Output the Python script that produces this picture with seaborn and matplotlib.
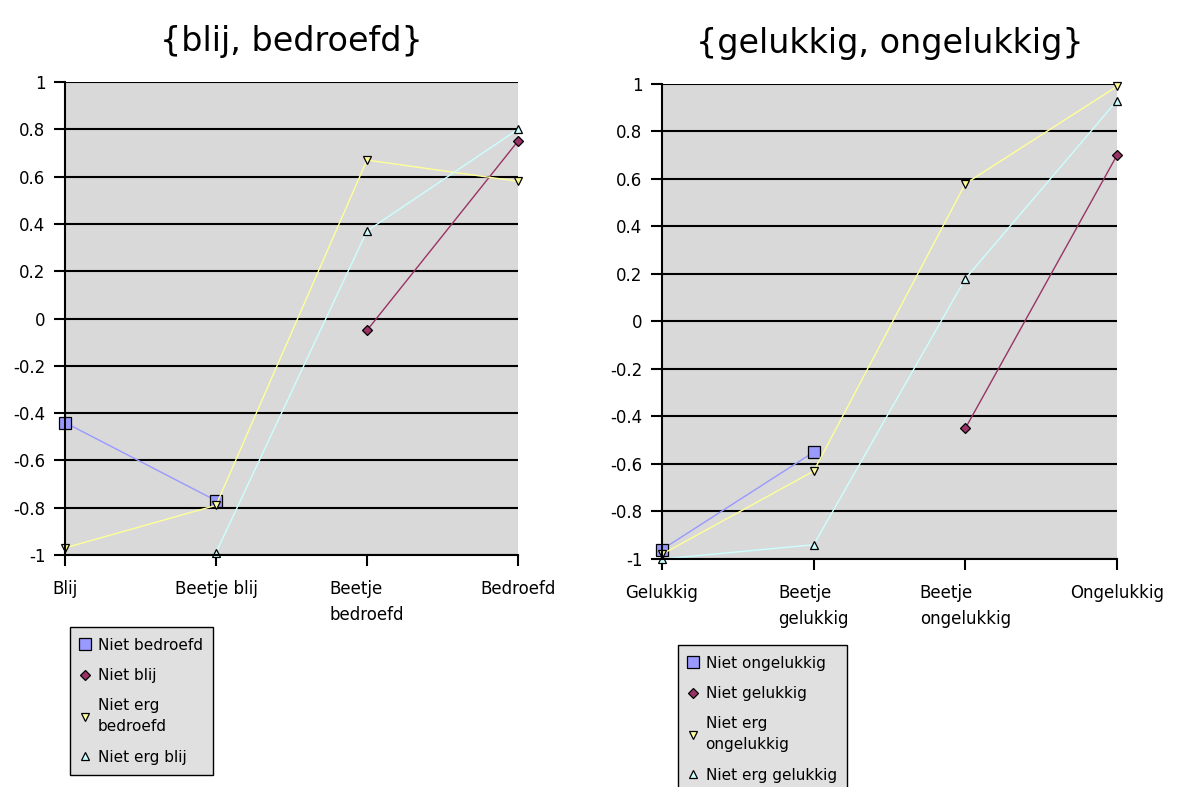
import numpy as np
import pandas as pd
import matplotlib
matplotlib.use("Agg")
import matplotlib.pyplot as plt
import seaborn as sns

# ---------------- data ----------------
cats_left = ["Blij", "Beetje blij", "Beetje\nbedroefd", "Bedroefd"]
niet_bedroefd = [-0.44, -0.77, np.nan, np.nan]
niet_blij = [np.nan, np.nan, -0.05, 0.75]
niet_erg_bedroefd = [-0.97, -0.79, 0.67, 0.58]
niet_erg_blij = [np.nan, -0.99, 0.37, 0.80]
labels_left = ["Niet bedroefd", "Niet blij", "Niet erg\nbedroefd", "Niet erg blij"]

cats_right = ["Gelukkig", "Beetje\ngelukkig", "Beetje\nongelukkig", "Ongelukkig"]
niet_ongelukkig = [-0.96, -0.55, np.nan, np.nan]
niet_gelukkig = [np.nan, np.nan, -0.45, 0.70]
niet_erg_ongelukkig = [-0.98, -0.63, 0.58, 0.99]
niet_erg_gelukkig = [-1.00, -0.94, 0.18, 0.93]
labels_right = ["Niet ongelukkig", "Niet gelukkig", "Niet erg\nongelukkig", "Niet erg gelukkig"]

ytick_vals = [1, 0.8, 0.6, 0.4, 0.2, 0, -0.2, -0.4, -0.6, -0.8, -1]
ytick_labels = ["1", "0.8", "0.6", "0.4", "0.2", "0", "-0.2", "-0.4", "-0.6", "-0.8", "-1"]

# ---------------- style ----------------
sns.set_style("white")
plt.rcParams['font.family'] = ['DejaVu Sans']
plt.rcParams['text.color'] = 'black'
plt.rcParams['xtick.color'] = 'black'
plt.rcParams['ytick.color'] = 'black'
plt.rcParams['axes.labelcolor'] = 'black'

colors = ["#9999ff", "#993366", "#ffff99", "#ccffff"]
markers = ["s", "D", "v", "^"]
msizes = [8, 5, 6, 6]

fig = plt.figure(figsize=(11.78, 7.87), dpi=100)
ax1 = fig.add_axes([65/1178, 1-555/787, (518-65)/1178, (555-82)/787])
ax2 = fig.add_axes([662/1178, 1-559/787, (1117-662)/1178, (559-84)/787])


def draw(ax, cats, series, labels, title, legend_xy):
    x = np.arange(len(cats))
    for vals, lab, c, m, ms in zip(series, labels, colors, markers, msizes):
        df = pd.DataFrame({"x": x, "y": vals}).dropna()
        sns.lineplot(data=df, x="x", y="y", ax=ax, color=c, linewidth=1.0,
                     marker=m, markersize=ms, markeredgecolor="black",
                     markeredgewidth=0.9, markerfacecolor=c, label=lab,
                     legend=False)
    for ln in ax.lines:
        ln.set_clip_on(False)
    ax.set_facecolor("#d9d9d9")
    ax.set_xlim(0, len(cats) - 1)
    ax.set_ylim(-1, 1)
    ax.set_yticks(ytick_vals)
    ax.set_yticklabels(ytick_labels, fontsize=12)
    ax.set_xticks(x)
    ax.set_xticklabels(cats, fontsize=12, multialignment="left", linespacing=1.6)
    ax.set_xlabel("")
    ax.set_ylabel("")
    ax.grid(axis="y", color="black", linewidth=1.5, zorder=0)
    ax.grid(axis="x", visible=False)
    ax.set_axisbelow(True)
    for s in ["top", "right"]:
        ax.spines[s].set_visible(False)
    for s in ["left", "bottom"]:
        ax.spines[s].set_color("black")
        ax.spines[s].set_linewidth(1.5)
    ax.tick_params(axis="y", left=True, direction="out", length=8, width=1.5,
                   color="black", labelcolor="black", pad=6)
    ax.tick_params(axis="x", bottom=True, direction="out", length=8, width=1.5,
                   color="black", labelcolor="black", pad=10)
    ax.set_title(title, fontsize=24, pad=22, color="black")
    hs = ax.lines
    leg = ax.legend(hs, labels, loc="upper left", bbox_to_anchor=legend_xy,
                    bbox_transform=fig.transFigure, fontsize=11, frameon=True,
                    fancybox=False, edgecolor="black", facecolor="#e0e0e0",
                    framealpha=1, handlelength=0.6, handletextpad=0.5,
                    labelspacing=1.0, borderpad=0.7, borderaxespad=0)
    leg.get_frame().set_linewidth(1.0)
    for t in leg.get_texts():
        t.set_color("black")
        t.set_linespacing(1.5)
    for h in leg.legend_handles:
        h.set_linestyle("none")


draw(ax1, cats_left, [niet_bedroefd, niet_blij, niet_erg_bedroefd, niet_erg_blij],
     labels_left, "{blij, bedroefd}", (70/1178, 1-627/787))
draw(ax2, cats_right, [niet_ongelukkig, niet_gelukkig, niet_erg_ongelukkig, niet_erg_gelukkig],
     labels_right, "{gelukkig, ongelukkig}", (678/1178, 1-645/787))

fig.savefig("out.png", dpi=100)
